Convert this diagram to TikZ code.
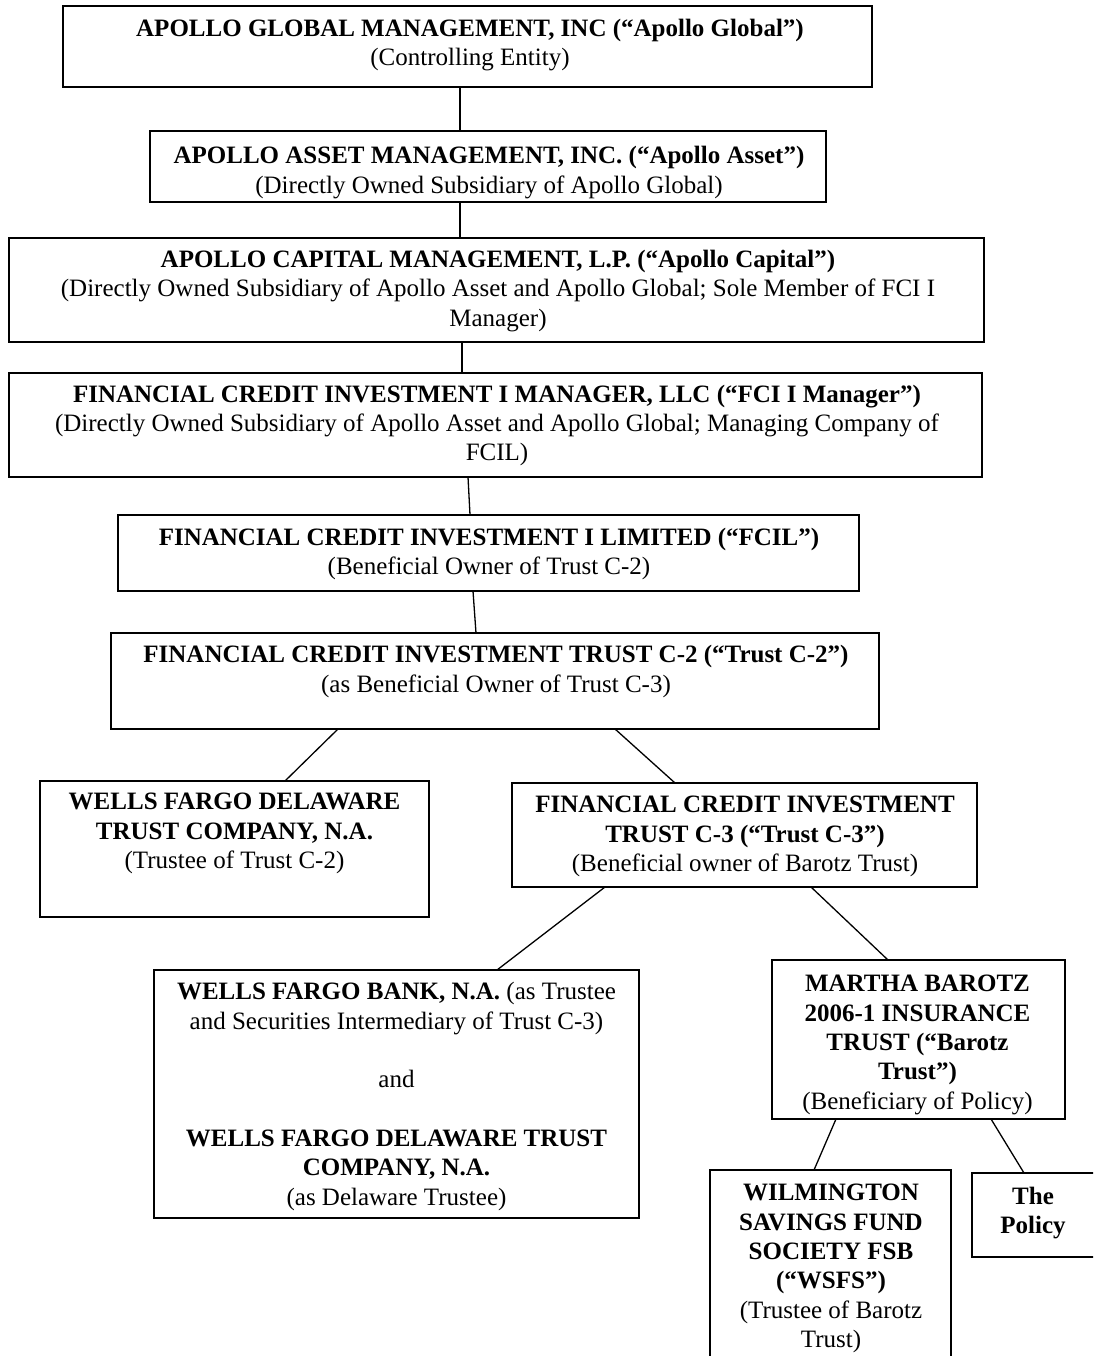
\documentclass[tikz,border=0pt]{standalone}
\usepackage{fontspec}
\setmainfont{Liberation Serif}
\usetikzlibrary{calc}
\begin{document}
\begin{tikzpicture}[x=1pt,y=-1pt,
  box/.style={draw=black,line width=1.8pt,rectangle,inner sep=0pt,outer sep=0pt},
  txt/.style={align=center,inner sep=0pt,font=\fontsize{25}{29.3}\selectfont},
  link/.style={draw=black,line width=1.3pt}]
\useasboundingbox (0,0) rectangle (1093,1356);
\clip (0,0) rectangle (1093,1356);
\fill[white] (0,0) rectangle (1093,1356);

% boxes
\node[box,minimum width=809pt,minimum height=81pt] (b1) at (467.5,46.5) {};
\node[box,minimum width=676pt,minimum height=71pt] (b2) at (488,166.5) {};
\node[box,minimum width=975pt,minimum height=104pt] (b3) at (496.5,290) {};
\node[box,minimum width=973pt,minimum height=104pt] (b4) at (495.5,425) {};
\node[box,minimum width=741pt,minimum height=76pt] (b5) at (488.5,553) {};
\node[box,minimum width=768pt,minimum height=96pt] (b6) at (495,681) {};
\node[box,minimum width=389pt,minimum height=136pt] (b7) at (234.5,849) {};
\node[box,minimum width=465pt,minimum height=104pt] (b8) at (744.5,835) {};
\node[box,minimum width=485pt,minimum height=248pt] (b9) at (396.5,1094) {};
\node[box,minimum width=293pt,minimum height=159pt] (b10) at (918.5,1039.5) {};
\node[box,minimum width=241pt,minimum height=196pt] (b11) at (830.5,1268) {};
\node[box,minimum width=124pt,minimum height=84pt] (b12) at (1034,1215) {};

% texts
\node[txt] (t1) at (470,45) {\textbf{APOLLO GLOBAL MANAGEMENT, INC (“Apollo Global”)}\\(Controlling Entity)};
\node[txt] (t2) at (489,172.5) {\textbf{APOLLO ASSET MANAGEMENT, INC. (“Apollo Asset”)}\\(Directly Owned Subsidiary of Apollo Global)};
\node[txt] (t3) at (498,291) {\textbf{APOLLO CAPITAL MANAGEMENT, L.P. (“Apollo Capital”)}\\(Directly Owned Subsidiary of Apollo Asset and Apollo Global; Sole Member of FCI I\\Manager)};
\node[txt] (t4) at (497,425.5) {\textbf{FINANCIAL CREDIT INVESTMENT I MANAGER, LLC (“FCI I Manager”)}\\(Directly Owned Subsidiary of Apollo Asset and Apollo Global; Managing Company of\\FCIL)};
\node[txt] (t5) at (489,554) {\textbf{FINANCIAL CREDIT INVESTMENT I LIMITED (“FCIL”)}\\(Beneficial Owner of Trust C-2)};
\node[txt] (t6) at (496,671.5) {\textbf{FINANCIAL CREDIT INVESTMENT TRUST C-2 (“Trust C-2”)}\\(as Beneficial Owner of Trust C-3)};
\node[txt] (t7) at (234.5,833.5) {\textbf{WELLS FARGO DELAWARE}\\\textbf{TRUST COMPANY, N.A.}\\(Trustee of Trust C-2)};
\node[txt] (t8) at (745,836.5) {\textbf{FINANCIAL CREDIT INVESTMENT}\\\textbf{TRUST C-3 (“Trust C-3”)}\\(Beneficial owner of Barotz Trust)};
\node[txt] (t9) at (396.5,1096.5) {\textbf{WELLS FARGO BANK, N.A.} (as Trustee\\and Securities Intermediary of Trust C-3)\\[29.3pt]and\\[29.3pt]\textbf{WELLS FARGO DELAWARE TRUST}\\\textbf{COMPANY, N.A.}\\(as Delaware Trustee)};
\node[txt] (t10) at (917.5,1045) {\textbf{MARTHA BAROTZ}\\\textbf{2006-1 INSURANCE}\\\textbf{TRUST (“Barotz}\\\textbf{Trust”)}\\(Beneficiary of Policy)};
\node[txt] (t11) at (831,1268.5) {\textbf{WILMINGTON}\\\textbf{SAVINGS FUND}\\\textbf{SOCIETY FSB}\\\textbf{(“WSFS”)}\\(Trustee of Barotz\\Trust)};
\node[txt] (t12) at (1033,1213) {\textbf{The}\\\textbf{Policy}};

% connectors
\draw[link] ($(b1.south)+(-7.5,0)$) -- ($(b2.north)+(-28,0)$);
\draw[link] ($(b2.south)+(-28,0)$) -- ($(b3.north)+(-36.5,0)$);
\draw[link] ($(b3.south)+(-34.5,0)$) -- ($(b4.north)+(-33.5,0)$);
\draw[link] ($(b4.south)+(-27.5,0)$) -- ($(b5.north)+(-18.5,0)$);
\draw[link] ($(b5.south)+(-15.5,0)$) -- ($(b6.north)+(-19,0)$);
\draw[link] ($(b6.south)+(-157,0)$) -- ($(b7.north)+(50.5,0)$);
\draw[link] ($(b6.south)+(120,0)$) -- ($(b8.north)+(-69.5,0)$);
\draw[link] ($(b8.south)+(-139.5,0)$) -- ($(b9.north)+(100.5,0)$);
\draw[link] ($(b8.south)+(66.5,0)$) -- ($(b10.north)+(-30.5,0)$);
\draw[link] ($(b10.south)+(-82.5,0)$) -- ($(b11.north)+(-16.5,0)$);
\draw[link] ($(b10.south)+(72.5,0)$) -- ($(b12.north)+(-10,0)$);
\end{tikzpicture}
\end{document}
